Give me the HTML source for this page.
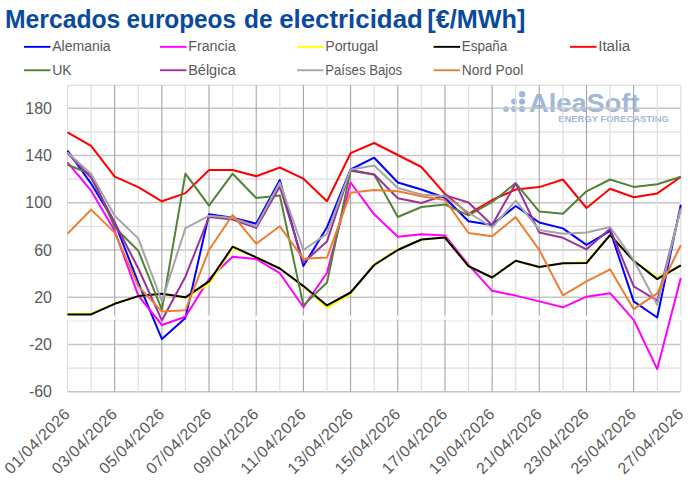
<!DOCTYPE html>
<html lang="es"><head><meta charset="utf-8"><title>Mercados europeos de electricidad</title>
<style>
html,body{margin:0;padding:0;background:#fff;}
body{width:696px;height:485px;overflow:hidden;position:relative;font-family:"Liberation Sans",sans-serif;}
svg{position:absolute;left:0;top:0;display:block;}
svg text{font-family:"Liberation Sans",sans-serif;}
</style></head><body>
<svg width="696" height="485" viewBox="0 0 696 485">
<rect width="696" height="485" fill="#fff"/>
<g font-size="26.1" font-weight="bold" fill="#0A4A9E">
<text x="4.9" y="27.7" textLength="115.5" lengthAdjust="spacingAndGlyphs">Mercados</text>
<text x="126.5" y="27.7" textLength="109.5" lengthAdjust="spacingAndGlyphs">europeos</text>
<text x="244.0" y="27.7" textLength="28.5" lengthAdjust="spacingAndGlyphs">de</text>
<text x="279.2" y="27.7" textLength="143.6" lengthAdjust="spacingAndGlyphs">electricidad</text>
<text x="427.3" y="27.7" textLength="98.0" lengthAdjust="spacingAndGlyphs">[€/MWh]</text>
</g>
<g fill="#A2B8D8">
<circle cx="506.0" cy="109.1" r="2.9"/>
<circle cx="514.1" cy="109.1" r="3.0"/>
<circle cx="522.1" cy="109.1" r="3.1"/>
<circle cx="514.1" cy="101.6" r="3.0"/>
<circle cx="522.1" cy="101.6" r="3.1"/>
<circle cx="522.1" cy="94.25" r="3.2"/>
<text x="529" y="112.3" font-size="26.4" font-weight="bold" textLength="110.5" lengthAdjust="spacingAndGlyphs">AleaSoft</text>
<text x="558.3" y="121.7" font-size="8.8" font-weight="bold" textLength="110.5" lengthAdjust="spacingAndGlyphs">ENERGY FORECASTING</text>
</g>
<g shape-rendering="auto"><line x1="67.50" x2="680.84" y1="85.30" y2="85.30" stroke="#DEDEDE" stroke-width="1.3"/>
<line x1="67.50" x2="680.84" y1="108.25" y2="108.25" stroke="#C6C6C6" stroke-width="1.4"/>
<line x1="67.50" x2="680.84" y1="131.88" y2="131.88" stroke="#DEDEDE" stroke-width="1.3"/>
<line x1="67.50" x2="680.84" y1="155.51" y2="155.51" stroke="#C6C6C6" stroke-width="1.4"/>
<line x1="67.50" x2="680.84" y1="179.14" y2="179.14" stroke="#DEDEDE" stroke-width="1.3"/>
<line x1="67.50" x2="680.84" y1="202.77" y2="202.77" stroke="#C6C6C6" stroke-width="1.4"/>
<line x1="67.50" x2="680.84" y1="226.40" y2="226.40" stroke="#DEDEDE" stroke-width="1.3"/>
<line x1="67.50" x2="680.84" y1="250.03" y2="250.03" stroke="#C6C6C6" stroke-width="1.4"/>
<line x1="67.50" x2="680.84" y1="273.66" y2="273.66" stroke="#DEDEDE" stroke-width="1.3"/>
<line x1="67.50" x2="680.84" y1="297.29" y2="297.29" stroke="#C6C6C6" stroke-width="1.4"/>
<line x1="67.50" x2="680.84" y1="320.92" y2="320.92" stroke="#ECECEC" stroke-width="1.3"/>
<line x1="67.50" x2="680.84" y1="344.55" y2="344.55" stroke="#C6C6C6" stroke-width="1.4"/>
<line x1="67.50" x2="680.84" y1="368.18" y2="368.18" stroke="#DEDEDE" stroke-width="1.3"/>
<line x1="67.50" x2="680.84" y1="391.81" y2="391.81" stroke="#C6C6C6" stroke-width="1.4"/>
<line y1="85.30" y2="391.81" x1="67.50" x2="67.50" stroke="#DEDEDE" stroke-width="1.2"/>
<line y1="85.30" y2="391.81" x1="91.09" x2="91.09" stroke="#DEDEDE" stroke-width="1.2"/>
<line y1="85.30" y2="391.81" x1="114.68" x2="114.68" stroke="#A4A4A4" stroke-width="1.1"/>
<line y1="85.30" y2="391.81" x1="138.27" x2="138.27" stroke="#DEDEDE" stroke-width="1.2"/>
<line y1="85.30" y2="391.81" x1="161.86" x2="161.86" stroke="#A4A4A4" stroke-width="1.1"/>
<line y1="85.30" y2="391.81" x1="185.45" x2="185.45" stroke="#DEDEDE" stroke-width="1.2"/>
<line y1="85.30" y2="391.81" x1="209.04" x2="209.04" stroke="#A4A4A4" stroke-width="1.1"/>
<line y1="85.30" y2="391.81" x1="232.63" x2="232.63" stroke="#DEDEDE" stroke-width="1.2"/>
<line y1="85.30" y2="391.81" x1="256.22" x2="256.22" stroke="#A4A4A4" stroke-width="1.1"/>
<line y1="85.30" y2="391.81" x1="279.81" x2="279.81" stroke="#DEDEDE" stroke-width="1.2"/>
<line y1="85.30" y2="391.81" x1="303.40" x2="303.40" stroke="#A4A4A4" stroke-width="1.1"/>
<line y1="85.30" y2="391.81" x1="326.99" x2="326.99" stroke="#DEDEDE" stroke-width="1.2"/>
<line y1="85.30" y2="391.81" x1="350.58" x2="350.58" stroke="#A4A4A4" stroke-width="1.1"/>
<line y1="85.30" y2="391.81" x1="374.17" x2="374.17" stroke="#DEDEDE" stroke-width="1.2"/>
<line y1="85.30" y2="391.81" x1="397.76" x2="397.76" stroke="#A4A4A4" stroke-width="1.1"/>
<line y1="85.30" y2="391.81" x1="421.35" x2="421.35" stroke="#DEDEDE" stroke-width="1.2"/>
<line y1="85.30" y2="391.81" x1="444.94" x2="444.94" stroke="#A4A4A4" stroke-width="1.1"/>
<line y1="85.30" y2="391.81" x1="468.53" x2="468.53" stroke="#DEDEDE" stroke-width="1.2"/>
<line y1="85.30" y2="391.81" x1="492.12" x2="492.12" stroke="#A4A4A4" stroke-width="1.1"/>
<line y1="85.30" y2="391.81" x1="515.71" x2="515.71" stroke="#DEDEDE" stroke-width="1.2"/>
<line y1="85.30" y2="391.81" x1="539.30" x2="539.30" stroke="#A4A4A4" stroke-width="1.1"/>
<line y1="85.30" y2="391.81" x1="562.89" x2="562.89" stroke="#DEDEDE" stroke-width="1.2"/>
<line y1="85.30" y2="391.81" x1="586.48" x2="586.48" stroke="#A4A4A4" stroke-width="1.1"/>
<line y1="85.30" y2="391.81" x1="610.07" x2="610.07" stroke="#DEDEDE" stroke-width="1.2"/>
<line y1="85.30" y2="391.81" x1="633.66" x2="633.66" stroke="#A4A4A4" stroke-width="1.1"/>
<line y1="85.30" y2="391.81" x1="657.25" x2="657.25" stroke="#DEDEDE" stroke-width="1.2"/>
<line y1="85.30" y2="391.81" x1="680.84" x2="680.84" stroke="#DEDEDE" stroke-width="1.2"/>
<line y1="315.52" y2="320.12" x1="67.50" x2="67.50" stroke="#fff" stroke-width="1.6"/>
<line y1="315.52" y2="320.12" x1="114.68" x2="114.68" stroke="#fff" stroke-width="1.6"/>
<line y1="315.52" y2="320.12" x1="161.86" x2="161.86" stroke="#fff" stroke-width="1.6"/>
<line y1="315.52" y2="320.12" x1="209.04" x2="209.04" stroke="#fff" stroke-width="1.6"/>
<line y1="315.52" y2="320.12" x1="256.22" x2="256.22" stroke="#fff" stroke-width="1.6"/>
<line y1="315.52" y2="320.12" x1="303.40" x2="303.40" stroke="#fff" stroke-width="1.6"/>
<line y1="315.52" y2="320.12" x1="350.58" x2="350.58" stroke="#fff" stroke-width="1.6"/>
<line y1="315.52" y2="320.12" x1="397.76" x2="397.76" stroke="#fff" stroke-width="1.6"/>
<line y1="315.52" y2="320.12" x1="444.94" x2="444.94" stroke="#fff" stroke-width="1.6"/>
<line y1="315.52" y2="320.12" x1="492.12" x2="492.12" stroke="#fff" stroke-width="1.6"/>
<line y1="315.52" y2="320.12" x1="539.30" x2="539.30" stroke="#fff" stroke-width="1.6"/>
<line y1="315.52" y2="320.12" x1="586.48" x2="586.48" stroke="#fff" stroke-width="1.6"/>
<line y1="315.52" y2="320.12" x1="633.66" x2="633.66" stroke="#fff" stroke-width="1.6"/>
<line y1="315.52" y2="320.12" x1="680.84" x2="680.84" stroke="#fff" stroke-width="1.6"/></g>
<polyline fill="none" stroke="#0000FF" stroke-width="2" stroke-linejoin="round" stroke-linecap="butt" points="67.5,150.7 91.1,183.6 114.7,222.5 138.3,282.6 161.9,339.1 185.4,317.9 209.0,214.3 232.6,217.8 256.2,223.7 279.8,180.1 303.4,266.1 327.0,227.2 350.6,169.5 374.2,157.7 397.8,182.5 421.4,189.5 444.9,197.8 468.5,221.3 492.1,224.9 515.7,206.0 539.3,222.5 562.9,228.4 586.5,244.9 610.1,230.8 633.7,301.4 657.2,317.5 680.8,204.8"/>
<polyline fill="none" stroke="#FF00FF" stroke-width="2" stroke-linejoin="round" stroke-linecap="butt" points="67.5,162.4 91.1,190.7 114.7,230.8 138.3,295.6 161.9,325.0 185.4,316.8 209.0,279.1 232.6,256.7 256.2,259.0 279.8,273.2 303.4,307.3 327.0,272.8 350.6,182.5 374.2,214.3 397.8,236.7 421.4,234.3 444.9,235.5 468.5,264.9 492.1,290.8 515.7,295.6 539.3,301.4 562.9,307.3 586.5,296.7 610.1,293.2 633.7,319.8 657.2,369.1 680.8,277.9"/>
<polyline fill="none" stroke="#FFFF00" stroke-width="2" stroke-linejoin="round" stroke-linecap="butt" points="67.5,313.7 91.1,313.7 114.7,303.4 138.3,296.1 161.9,293.8 185.4,297.9 209.0,283.8 232.6,248.4 256.2,257.3 279.8,268.5 303.4,286.5 327.0,307.8 350.6,293.7 374.2,264.2 397.8,249.1 421.4,239.5 444.9,237.5 468.5,266.2 492.1,277.5 515.7,260.8 539.3,267.0 562.9,263.3 586.5,261.9 610.1,235.0 633.7,260.8 657.2,277.5 680.8,265.3"/>
<polyline fill="none" stroke="#000000" stroke-width="2" stroke-linejoin="round" stroke-linecap="butt" points="67.5,314.4 91.1,314.4 114.7,303.8 138.3,296.1 161.9,293.8 185.4,297.3 209.0,281.4 232.6,246.7 256.2,257.3 279.8,268.5 303.4,286.1 327.0,305.4 350.6,292.5 374.2,265.0 397.8,250.0 421.4,239.5 444.9,237.5 468.5,266.2 492.1,277.5 515.7,260.8 539.3,267.0 562.9,263.3 586.5,263.0 610.1,235.0 633.7,260.8 657.2,279.1 680.8,265.3"/>
<polyline fill="none" stroke="#FF0000" stroke-width="2" stroke-linejoin="round" stroke-linecap="butt" points="67.5,132.4 91.1,145.9 114.7,176.6 138.3,187.2 161.9,201.3 185.4,193.1 209.0,170.0 232.6,170.0 256.2,176.2 279.8,167.5 303.4,178.7 327.0,201.3 350.6,153.2 374.2,143.0 397.8,155.0 421.4,167.0 444.9,193.8 468.5,213.8 492.1,200.0 515.7,189.5 539.3,187.1 562.9,179.5 586.5,208.0 610.1,188.8 633.7,197.2 657.2,193.4 680.8,177.0"/>
<polyline fill="none" stroke="#548235" stroke-width="2" stroke-linejoin="round" stroke-linecap="butt" points="67.5,164.8 91.1,174.2 114.7,227.2 138.3,250.8 161.9,309.7 185.4,173.7 209.0,205.6 232.6,173.7 256.2,198.0 279.8,195.5 303.4,305.4 327.0,282.5 350.6,170.7 374.2,174.5 397.8,217.0 421.4,207.0 444.9,204.5 468.5,215.4 492.1,202.0 515.7,183.1 539.3,211.6 562.9,213.8 586.5,191.3 610.1,179.5 633.7,186.9 657.2,184.2 680.8,176.7"/>
<polyline fill="none" stroke="#993399" stroke-width="2" stroke-linejoin="round" stroke-linecap="butt" points="67.5,153.0 91.1,177.8 114.7,222.5 138.3,268.5 161.9,320.3 185.4,276.7 209.0,217.0 232.6,219.5 256.2,227.9 279.8,186.6 303.4,262.6 327.0,241.4 350.6,170.0 374.2,174.5 397.8,198.2 421.4,203.0 444.9,195.1 468.5,202.5 492.1,224.9 515.7,183.6 539.3,232.5 562.9,237.8 586.5,249.3 610.1,228.8 633.7,286.4 657.2,300.7 680.8,208.4"/>
<polyline fill="none" stroke="#A5A5A5" stroke-width="2" stroke-linejoin="round" stroke-linecap="butt" points="67.5,152.4 91.1,173.9 114.7,215.7 138.3,238.4 161.9,301.4 185.4,228.2 209.0,215.8 232.6,218.0 256.2,226.3 279.8,182.5 303.4,250.0 327.0,233.7 350.6,169.5 374.2,165.5 397.8,188.0 421.4,194.5 444.9,196.2 468.5,212.5 492.1,227.5 515.7,200.7 539.3,229.9 562.9,233.7 586.5,232.5 610.1,227.0 633.7,260.2 657.2,304.7 680.8,208.4"/>
<polyline fill="none" stroke="#ED7D31" stroke-width="2" stroke-linejoin="round" stroke-linecap="butt" points="67.5,233.7 91.1,209.6 114.7,232.6 138.3,286.1 161.9,311.6 185.4,310.3 209.0,250.0 232.6,215.0 256.2,243.7 279.8,226.3 303.4,258.8 327.0,257.5 350.6,192.7 374.2,190.0 397.8,191.3 421.4,196.2 444.9,200.0 468.5,233.0 492.1,236.2 515.7,217.1 539.3,250.0 562.9,295.4 586.5,281.3 610.1,269.3 633.7,309.2 657.2,293.3 680.8,245.3"/>
<g font-size="16" fill="#595959" text-anchor="end">
<text x="52" y="113.8">180</text>
<text x="52" y="161.1">140</text>
<text x="52" y="208.4">100</text>
<text x="52" y="255.6">60</text>
<text x="52" y="302.9">20</text>
<text x="52" y="350.2">-20</text>
<text x="52" y="397.4">-60</text>
</g>
<g font-size="16" fill="#595959" text-anchor="end">
<text transform="translate(70.9,415.1) rotate(-45)" textLength="84.7" lengthAdjust="spacing">01/04/2026</text>
<text transform="translate(118.1,415.1) rotate(-45)" textLength="84.7" lengthAdjust="spacing">03/04/2026</text>
<text transform="translate(165.3,415.1) rotate(-45)" textLength="84.7" lengthAdjust="spacing">05/04/2026</text>
<text transform="translate(212.4,415.1) rotate(-45)" textLength="84.7" lengthAdjust="spacing">07/04/2026</text>
<text transform="translate(259.6,415.1) rotate(-45)" textLength="84.7" lengthAdjust="spacing">09/04/2026</text>
<text transform="translate(306.8,415.1) rotate(-45)" textLength="84.7" lengthAdjust="spacing">11/04/2026</text>
<text transform="translate(354.0,415.1) rotate(-45)" textLength="84.7" lengthAdjust="spacing">13/04/2026</text>
<text transform="translate(401.2,415.1) rotate(-45)" textLength="84.7" lengthAdjust="spacing">15/04/2026</text>
<text transform="translate(448.3,415.1) rotate(-45)" textLength="84.7" lengthAdjust="spacing">17/04/2026</text>
<text transform="translate(495.5,415.1) rotate(-45)" textLength="84.7" lengthAdjust="spacing">19/04/2026</text>
<text transform="translate(542.7,415.1) rotate(-45)" textLength="84.7" lengthAdjust="spacing">21/04/2026</text>
<text transform="translate(589.9,415.1) rotate(-45)" textLength="84.7" lengthAdjust="spacing">23/04/2026</text>
<text transform="translate(637.1,415.1) rotate(-45)" textLength="84.7" lengthAdjust="spacing">25/04/2026</text>
<text transform="translate(684.2,415.1) rotate(-45)" textLength="84.7" lengthAdjust="spacing">27/04/2026</text>
</g>
<g font-size="14" fill="#595959">
<line x1="24" x2="50.5" y1="46.85" y2="46.85" stroke="#0000FF" stroke-width="1.9"/>
<text x="52.2" y="51.1" textLength="58.5" lengthAdjust="spacingAndGlyphs">Alemania</text>
<line x1="160" x2="186.5" y1="46.85" y2="46.85" stroke="#FF00FF" stroke-width="1.9"/>
<text x="188.2" y="51.1" textLength="47.5" lengthAdjust="spacingAndGlyphs">Francia</text>
<line x1="297" x2="323.5" y1="46.85" y2="46.85" stroke="#FFFF00" stroke-width="1.9"/>
<text x="325.2" y="51.1" textLength="53" lengthAdjust="spacingAndGlyphs">Portugal</text>
<line x1="433.6" x2="460.1" y1="46.85" y2="46.85" stroke="#000000" stroke-width="1.9"/>
<text x="461.8" y="51.1" textLength="45.5" lengthAdjust="spacingAndGlyphs">España</text>
<line x1="570" x2="596.5" y1="46.85" y2="46.85" stroke="#FF0000" stroke-width="1.9"/>
<text x="598.2" y="51.1" textLength="32" lengthAdjust="spacingAndGlyphs">Italia</text>
<line x1="24" x2="50.5" y1="70.25" y2="70.25" stroke="#548235" stroke-width="1.9"/>
<text x="52.2" y="75.0" textLength="19.5" lengthAdjust="spacingAndGlyphs">UK</text>
<line x1="160" x2="186.5" y1="70.25" y2="70.25" stroke="#993399" stroke-width="1.9"/>
<text x="188.2" y="75.0" textLength="47.5" lengthAdjust="spacingAndGlyphs">Bélgica</text>
<line x1="297" x2="323.5" y1="70.25" y2="70.25" stroke="#A5A5A5" stroke-width="1.9"/>
<text x="325.2" y="75.0" textLength="77" lengthAdjust="spacingAndGlyphs">Países Bajos</text>
<line x1="433.6" x2="460.1" y1="70.25" y2="70.25" stroke="#ED7D31" stroke-width="1.9"/>
<text x="461.8" y="75.0" textLength="61.5" lengthAdjust="spacingAndGlyphs">Nord Pool</text>
</g>
</svg></body></html>
